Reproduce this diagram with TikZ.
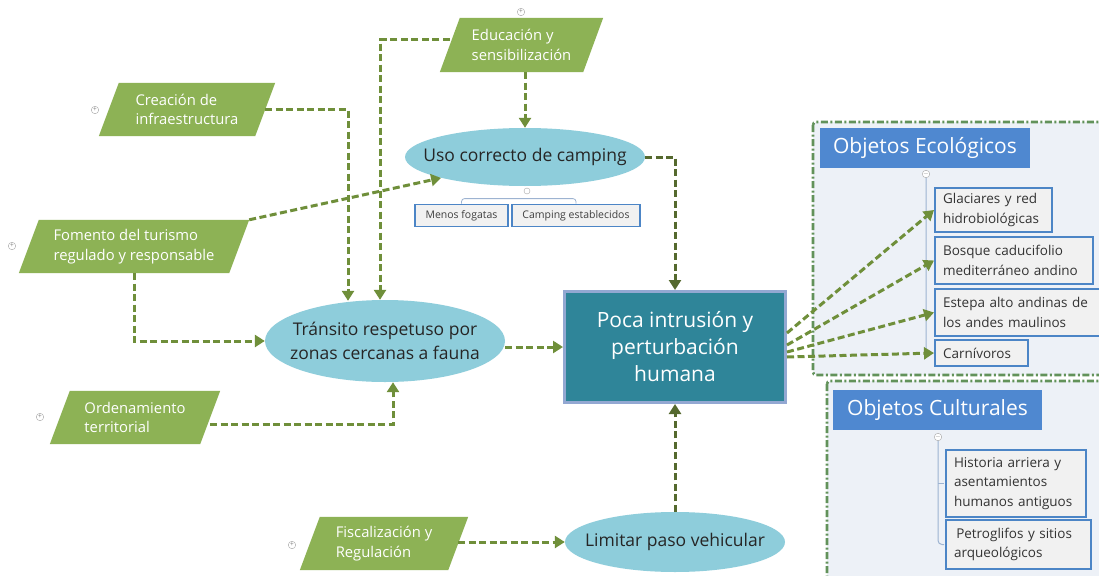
\documentclass[tikz,border=0pt]{standalone}
\usepackage{fontspec}
\setmainfont{Open Sans}
\usetikzlibrary{arrows.meta,calc,shapes.geometric,backgrounds}
\definecolor{pgreen}{HTML}{8DB255}
\definecolor{lgreen}{HTML}{6F8F3A}
\definecolor{dgreen}{HTML}{55692E}
\definecolor{ellfill}{HTML}{8ECDDB}
\definecolor{pocafill}{HTML}{2F8599}
\definecolor{pocaborder}{HTML}{93A8D2}
\definecolor{grpfill}{HTML}{EDF1F7}
\definecolor{grpline}{HTML}{62925A}
\definecolor{titlefill}{HTML}{4F88D0}
\definecolor{itemline}{HTML}{4C85C6}
\definecolor{itemfill}{HTML}{F1F1F1}
\definecolor{treeline}{HTML}{9DB3D1}
\newcommand\parashape[1]{\fill[pgreen] ($(#1.north west)+(10,0)$) -- ($(#1.north east)+(10,0)$) -- ($(#1.south east)+(-10,0)$) -- ($(#1.south west)+(-10,0)$) -- cycle;}
\tikzset{
  para/.style={align=left, text=white, inner sep=0pt, minimum height=53pt, font=\fontsize{14.8}{19.5}\selectfont},
  ell/.style={ellipse, fill=ellfill, inner sep=0pt},
  elltext/.style={align=center, text=black!85, inner sep=0pt, font=\fontsize{17.5}{24}\selectfont},
  title/.style={fill=titlefill, text=white, minimum height=40pt, inner sep=0pt, font=\fontsize{21}{25}\selectfont},
  item/.style={draw=itemline, line width=2pt, fill=itemfill, align=left, anchor=north west, text=black!80, inner xsep=8pt, inner ysep=0pt, font=\fontsize{13.5}{19.5}\selectfont},
  sub/.style={draw=itemline, line width=1.8pt, fill=itemfill, text=black!75, minimum height=22pt, inner xsep=3pt, inner ysep=0pt, font=\fontsize{10.5}{12}\selectfont},
  conn/.style={draw=lgreen, line width=3pt, dash pattern=on 7pt off 3.5pt, -{Triangle[length=10pt,width=12pt]}},
  dconn/.style={conn, draw=dgreen},
  grp/.style={draw=grpline, line width=2.6pt, dash pattern=on 7pt off 2.5pt on 2pt off 2.5pt, fill=grpfill, rounded corners=3pt},
  cmark/.style={circle, draw=gray!70, fill=white, inner sep=0pt, minimum size=7.5pt, text=gray, font=\fontsize{6.5}{6.5}\selectfont},
  tree/.style={draw=treeline, line width=1pt, rounded corners=4pt}
}
\begin{document}
\begin{tikzpicture}[x=1pt,y=-1pt]
\begin{scope}[on background layer]
\fill[white] (0,0) rectangle (1099,575);
\end{scope}
\useasboundingbox (0,0) rectangle (1099,575);

% groups
\draw[grp] (813,122) rectangle (1110,375);
\draw[grp] (827,381) rectangle (1110,585);
\node[title, minimum width=210pt] (ecot) at (925,148) {Objetos Ecológicos};
\node[title, minimum width=209pt] (cult) at (937.5,410) {Objetos Culturales};

% items
\node[item, minimum height=44pt, text width=101pt] (gla) at (934,187) {Glaciares y red\\hidrobiológicas};
\node[item, minimum height=47pt, text width=142pt] (bos) at (934,236) {Bosque caducifolio\\mediterráneo andino};
\node[item, minimum height=47pt, text width=154pt] (est) at (934,288) {Estepa alto andinas de\\los andes maulinos};
\node[item, minimum height=26pt, text width=77pt] (car) at (934,339) {Carnívoros};
\node[item, minimum height=67pt, text width=124pt] (his) at (945,449) {Historia arriera y\\asentamientos\\humanos antiguos};
\node[item, minimum height=49pt, text width=129pt] (pet) at (945,519) {\,Petroglifos y sitios\\arqueológicos};

% trees
\node[cmark] (em) at (926,174) {$-$};
\node[cmark] (cm) at (938,437) {$-$};
\draw[tree] (em.south) |- ($(car.west)+(-1,0)$);
\draw[tree] (cm.south) |- ($(pet.west)+(-1,0)$);
\draw[tree] (cm.south |- his.west) -- ($(his.west)+(-1,0)$);

% parallelograms
\node[para, minimum width=143pt, minimum height=54pt] (edu) at (521.5,45) {Educación y\\sensibilización};
\node[para, minimum width=156pt] (cre) at (187,109.5) {Creación de\\infraestructura};
\node[para, minimum width=210pt] (fom) at (134,246.5) {Fomento del turismo\\regulado y responsable};
\node[para, minimum width=150pt] (ord) at (135,417.5) {Ordenamiento\\territorial};
\node[para, minimum width=148pt] (fis) at (384,543.5) {Fiscalización y\\Regulación};
\begin{scope}[on background layer]
\parashape{edu}\parashape{cre}\parashape{fom}\parashape{ord}\parashape{fis}
\end{scope}

\node[cmark] (m1) at (521,12) {+};
\node[cmark] (m2) at (95,110) {+};
\node[cmark] (m3) at (12,246) {+};
\node[cmark] (m4) at (40,417) {+};
\node[cmark] (m5) at (292,545) {+};

% ellipses
\node[ell, minimum width=240pt, minimum height=58pt] (uso) at (525,157) {};
\node[elltext] (usot) at (uso.center) {Uso correcto de camping};
\node[ell, minimum width=240pt, minimum height=82pt] (tra) at (385,341) {};
\node[elltext] (trat) at (tra.center) {Tránsito respetuso por\\zonas cercanas a fauna};
\node[ell, minimum width=220pt, minimum height=60pt] (lim) at (675,542) {};
\node[elltext] (limt) at (lim.center) {Limitar paso vehicular};

% camping subitems
\node[sub, minimum width=93pt] (mf) at (461.5,215.5) {Menos fogatas};
\node[sub, minimum width=128pt] (ce) at (576,215.5) {Camping establecidos};
\node[cmark, minimum size=6pt] (um) at (527,191) {};
\draw[tree, line width=0.8pt, rounded corners=3pt] (mf.north) -- ++(0,-5) -| (ce.north);

% central box
\node[draw=pocaborder, line width=3pt, fill=pocafill, minimum width=221pt, minimum height=111pt, text=white, align=center, inner sep=0pt, font=\fontsize{21}{27}\selectfont] (poca) at (675,347) {Poca intrusión y\\perturbación\\humana};

% connectors
\draw[conn] ($(edu.west)+(0,-5)$) -| ($(tra.north)+(-5,0)$);
\draw[conn] (cre.east) -| ($(tra.north)+(-37,1)$);
\draw[conn] (uso.north |- edu.south) -- (uso.north);
\draw[conn] ($(fom.north east)+(10,0)$) -- (uso.194);
\draw[conn] (fom.south) |- (tra.west);
\draw[conn] ($(ord.east)+(0,7)$) -| ($(tra.south)+(8,0)$);
\draw[conn] (tra.east |- poca.west) -- (poca.west);
\draw[dconn] (uso.east) -| (poca.north);
\draw[dconn] (lim.north) -- (poca.south);
\draw[conn] (fis.east |- lim.west) -- (lim.west);
\draw[conn] ($(poca.east)+(0,-14)$) -- (gla.west);
\draw[conn] ($(poca.east)+(0,-2)$) -- (bos.west);
\draw[conn] ($(poca.east)+(0,5)$) -- (est.west);
\draw[conn] ($(poca.east)+(0,10)$) -- (car.west);
\end{tikzpicture}
\end{document}
